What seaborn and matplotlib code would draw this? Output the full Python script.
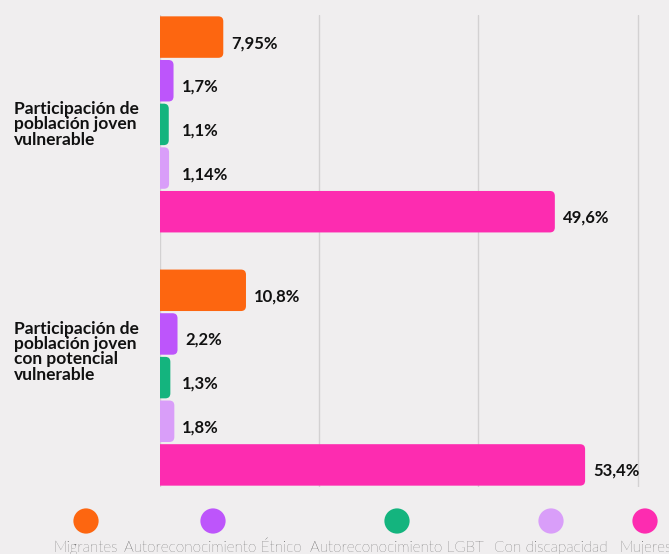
import matplotlib
matplotlib.use("Agg")
import matplotlib.pyplot as plt
import matplotlib.transforms as mtransforms
from matplotlib.patches import FancyBboxPatch
import seaborn as sns
import pandas as pd

# Indicator rows (y axis) and population groups (hue)
categories = [
    "Participación de\npoblación joven\nvulnerable",
    "Participación de\npoblación joven\ncon potencial\nvulnerable",
]
groups = [
    "Migrantes",
    "Autoreconocimiento Étnico",
    "Autoreconocimiento LGBT",
    "Con discapacidad",
    "Mujeres",
]
vulnerable = [7.95, 1.7, 1.1, 1.14, 49.6]
potencial_vulnerable = [10.8, 2.2, 1.3, 1.8, 53.4]
colors = ["#fd6610", "#bd55fb", "#14b47e", "#d99ef9", "#fd2cb0"]
x_ticks = [0, 20, 40, 60]

BG = "#f0eeef"
GRID = "#d3d1d2"

sns.set_theme(style="white")
plt.rcParams["font.family"] = ["Lato", "DejaVu Sans"]

rows = []
for cat, vals in zip(categories, [vulnerable, potencial_vulnerable]):
    for g, v in zip(groups, vals):
        rows.append({"indicador": cat, "grupo": g, "valor": v})
df = pd.DataFrame(rows)

W, H = 669, 554
fig = plt.figure(figsize=(W / 100, H / 100), dpi=100, facecolor=BG)
ax_left, ax_right, ax_top, ax_bottom = 160, 669, 15, 487
ax = fig.add_axes([ax_left / W, (H - ax_bottom) / H,
                   (ax_right - ax_left) / W, (ax_bottom - ax_top) / H])
ax.set_facecolor(BG)

sns.barplot(data=df, x="valor", y="indicador", hue="grupo",
            hue_order=groups, order=categories, palette=colors,
            orient="h", width=0.862, gap=0.05, legend=False,
            saturation=1, ax=ax)

px_per_x = (ax_right - ax_left) / 63.94
ax.set_xlim(0, (ax_right - ax_left) / px_per_x)
ax.set_ylim(1.432, -0.432)
px_per_y = (ax_bottom - ax_top) / (1.432 + 0.432)

# vertical grid lines
ax.set_xticks(x_ticks)
ax.grid(axis="x", color=GRID, linewidth=1)
ax.set_axisbelow(True)
ax.tick_params(axis="both", length=0, labelbottom=False, labelleft=False)
ax.set_xlabel("")
ax.set_ylabel("")
for s in ax.spines.values():
    s.set_visible(False)

# swap the rectangles for bars with rounded ends
radius_px = 5
bars = list(ax.patches)
for rect in bars:
    x0, y0 = rect.get_x(), rect.get_y()
    w, h = rect.get_width(), rect.get_height()
    ext = 10 / px_per_x
    rb = FancyBboxPatch(
        (x0 - ext, y0), w + ext, h,
        boxstyle=f"round,pad=0,rounding_size={radius_px / px_per_x}",
        mutation_aspect=px_per_x / px_per_y,
        facecolor=rect.get_facecolor(), edgecolor="none", zorder=3,
    )
    ax.add_patch(rb)
    rect.set_visible(False)

# value labels
for rect in bars:
    v = rect.get_width()
    yc = rect.get_y() + rect.get_height() / 2
    txt = f"{v:g}".replace(".", ",") + "%"
    xpx = max(v * px_per_x + 8, 22)
    ax.text(xpx / px_per_x, yc + 6 / px_per_y, txt, ha="left", va="center",
            fontsize=12, fontweight="bold", color="#111111", zorder=4)

# category labels, left aligned
lab_tr = mtransforms.blended_transform_factory(fig.transFigure, ax.transData)
label_y = [0, 1 - 26 / px_per_y]
for cat, yv in zip(categories, label_y):
    ax.text(14 / W, yv, cat, transform=lab_tr, ha="left", va="center",
            fontsize=12.5, fontweight="bold", color="#111111",
            linespacing=0.95, clip_on=False)

# legend row at the bottom
leg_ax = fig.add_axes([0, 0, 1, 1], facecolor="none")
leg_ax.set_xlim(0, W)
leg_ax.set_ylim(H, 0)
leg_ax.axis("off")
leg_x = [86, 213, 397, 551, 645]
leg_df = pd.DataFrame({"x": leg_x, "y": [521] * 5, "grupo": groups})
sns.scatterplot(data=leg_df, x="x", y="y", hue="grupo", hue_order=groups,
                palette=colors, s=330, linewidth=0, legend=False, ax=leg_ax)
leg_ax.set_xlim(0, W)
leg_ax.set_ylim(H, 0)
leg_ax.axis("off")
for xl, g in zip(leg_x, groups):
    leg_ax.text(xl, 541, g, ha="center", va="top", fontsize=11,
                fontweight="light", color="#222222")

fig.savefig("out.png", dpi=100, facecolor=BG)
